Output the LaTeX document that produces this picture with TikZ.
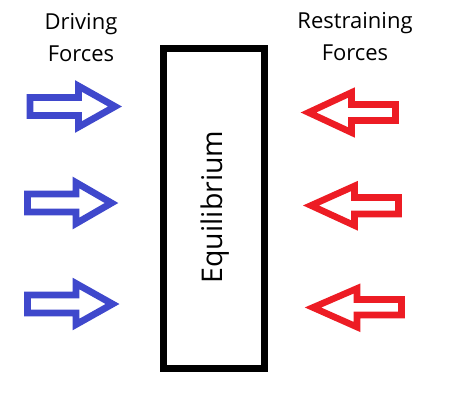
\documentclass[tikz,border=0pt]{standalone}
\usepackage{fontspec}
\setmainfont{Open Sans}
\definecolor{pblue}{HTML}{3F48CC}
\definecolor{pred}{HTML}{ED1C24}
\begin{document}
\begin{tikzpicture}[x=1pt,y=-1pt,
  bluearrow/.style={draw=pblue,line width=6.8pt,line join=miter,miter limit=10},
  redarrow/.style={draw=pred,line width=6.6pt,line join=miter,miter limit=10},
  eqbox/.style={draw=black,line width=7pt},
  lbl/.style={align=center,inner sep=0pt,font=\fontsize{22}{32}\selectfont}]
\useasboundingbox (0,0) rectangle (450,415);
% labels
\node[lbl,anchor=north] (drv) at (81,13) {Driving\\Forces};
\node[lbl,anchor=north] (rst) at (355,12) {Restraining\\Forces};
% box
\draw[eqbox] (163.7,48.5) rectangle (264.3,368);
\node[rotate=90,font=\fontsize{28.5}{32}\selectfont,inner sep=0pt] (eq) at (215,207) {Equilibrium};
% blue arrows
\draw[bluearrow] (30,97.5) -- (78.5,97.5) -- (78.5,86) -- (115,106.5) -- (78.5,127) -- (78.5,115.5) -- (30,115.5) -- cycle;
\draw[bluearrow] (27.5,194) -- (76,194) -- (76,182.5) -- (111.5,203) -- (76,223.5) -- (76,212) -- (27.5,212) -- cycle;
\draw[bluearrow] (27.5,295) -- (76,295) -- (76,283.5) -- (112.5,304) -- (76,324.5) -- (76,313) -- (27.5,313) -- cycle;
% red arrows
\draw[redarrow] (395.5,104.5) -- (351.5,104.5) -- (351.5,92.5) -- (308.5,112.5) -- (351.5,132.5) -- (351.5,120.5) -- (395.5,120.5) -- cycle;
\draw[redarrow] (398.5,197.5) -- (354.5,197.5) -- (354.5,186) -- (311,205.5) -- (354.5,225.5) -- (354.5,214) -- (398.5,214) -- cycle;
\draw[redarrow] (401.5,299.5) -- (357,299.5) -- (357,288.5) -- (313,307.5) -- (357,327) -- (357,315) -- (401.5,315) -- cycle;
\end{tikzpicture}
\end{document}
